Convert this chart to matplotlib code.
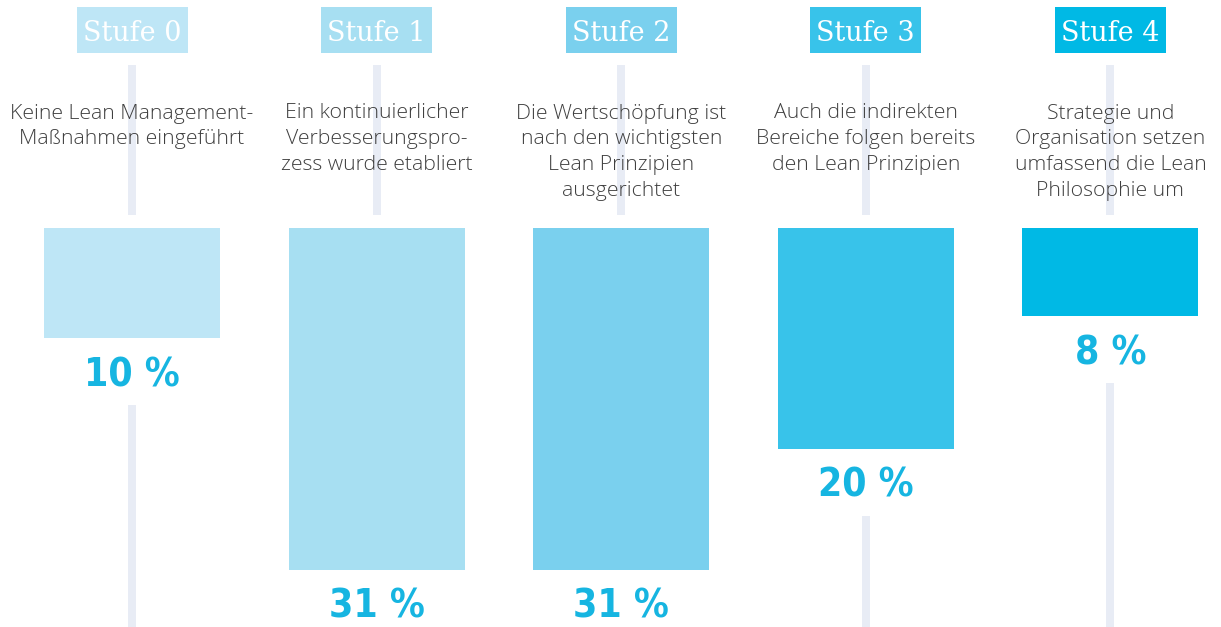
import matplotlib
matplotlib.use("Agg")
import matplotlib.pyplot as plt
from matplotlib import font_manager as fm

stages = ["Stufe 0", "Stufe 1", "Stufe 2", "Stufe 3", "Stufe 4"]
values = [10, 31, 31, 20, 8]
labels = ["10 %", "31 %", "31 %", "20 %", "8 %"]
descriptions = [
    "Keine Lean Management-\nMaßnahmen eingeführt",
    "Ein kontinuierlicher\nVerbesserungspro-\nzess wurde etabliert",
    "Die Wertschöpfung ist\nnach den wichtigsten\nLean Prinzipien\nausgerichtet",
    "Auch die indirekten\nBereiche folgen bereits\nden Lean Prinzipien",
    "Strategie und\nOrganisation setzen\numfassend die Lean\nPhilosophie um",
]
colors = ["#bee6f6", "#a7dff2", "#7ad0ee", "#38c3ea", "#00b9e5"]

cond = None
for f in fm.findSystemFonts():
    n = f.lower()
    if "condensed-bold" in n and "oblique" not in n and "dejavusans" in n.replace(" ", ""):
        cond = f
        break
label_font = fm.FontProperties(fname=cond, size=28) if cond else fm.FontProperties(family="DejaVu Sans", weight="bold", size=25)

W, H = 1221, 627
fig = plt.figure(figsize=(W / 100, H / 100), dpi=100)
ax = fig.add_axes([0, 0, 1, 1])
ax.axis("off")

x0, dx = 132.0, 244.6
ytop, sy = 228.0, 11.03
ax.set_xlim(-x0 / dx, (W - x0) / dx)
ax.set_ylim((H - ytop) / sy, -ytop / sy)

def py(p):
    return (p - ytop) / sy

xs = list(range(len(stages)))
line_col = "#e8ecf5"
lw = 8 * 72 / 100

for i, v in zip(xs, values):
    ax.vlines(i, py(65), py(215), color=line_col, lw=lw, zorder=1)
    ax.vlines(i, v + 67 / sy, py(H + 5), color=line_col, lw=lw, zorder=1)

ax.bar(xs, values, width=176 / dx, bottom=0, color=colors, align="center", zorder=2)

# header boxes
ax.bar(xs, 46 / sy, width=111 / dx, bottom=py(7), color=colors, align="center", zorder=3)

for i, (st, d, v, lab) in enumerate(zip(stages, descriptions, values, labels)):
    ax.text(i, py(31), st, ha="center", va="center_baseline", color="white",
            family="DejaVu Serif", fontsize=19.5, zorder=4)
    ax.text(i, py(103.5), d, ha="center", va="top", color="#3f3f3f",
            family="Open Sans", fontweight="light", fontsize=15.3,
            linespacing=1.39, zorder=3)
    ax.text(i, v + 37 / sy, lab, ha="center", va="center", color="#16b5e1",
            fontproperties=label_font, zorder=3)

fig.savefig("out.png", dpi=100, facecolor="white")
